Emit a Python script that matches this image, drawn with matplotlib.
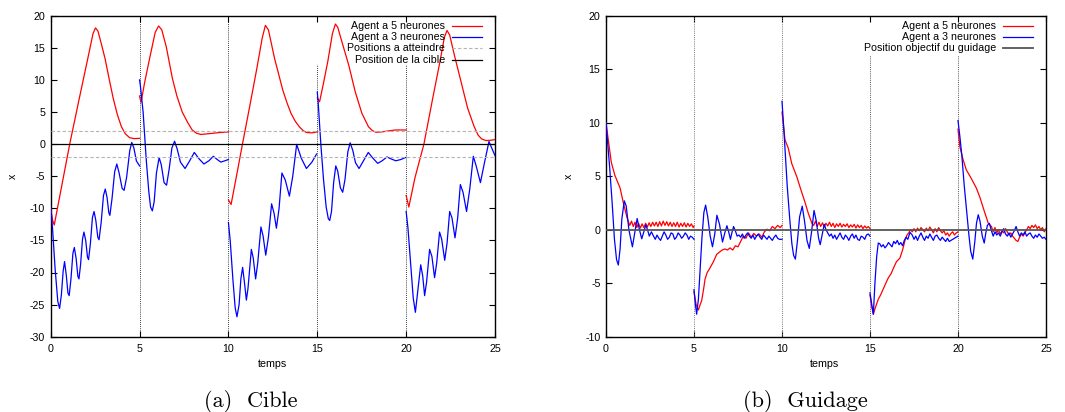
import numpy as np
import matplotlib
matplotlib.use("Agg")
import matplotlib.pyplot as plt

plt.rcParams['font.family'] = ['Liberation Sans', 'DejaVu Sans']
plt.rcParams['axes.unicode_minus'] = False

# ---------------- (a) Cible : one list per segment (agent reset every 5 s)
cible_t5 = [
    [0.0, 0.1, 0.2, 0.6, 1.07, 1.6, 2.1, 2.38, 2.52, 2.66, 2.85, 3.06, 3.3, 3.52, 3.75, 3.98, 4.2, 4.44, 4.7, 5.0],
    [5.0, 5.08, 5.3, 5.6, 5.88, 6.07, 6.25, 6.5, 6.85, 7.1, 7.4, 7.7, 7.96, 8.2, 8.45, 9.0, 9.5, 10.0],
    [10.0, 10.15, 10.5, 10.79, 11.2, 11.6, 11.9, 12.08, 12.25, 12.6, 13.06, 13.3, 13.52, 13.75, 13.99, 14.2, 14.4, 14.7, 15.0],
    [15.0, 15.13, 15.35, 15.6, 15.85, 16.02, 16.15, 16.39, 16.77, 17.14, 17.51, 17.88, 18.1, 18.3, 18.62, 19.0, 19.4, 20.0],
    [20.0, 20.15, 20.5, 21.0, 21.5, 21.9, 22.15, 22.3, 22.45, 22.71, 23.09, 23.46, 23.83, 24.05, 24.25, 24.5, 24.75, 25.0],
]
cible_x5 = [
    [-10.0, -11.8, -12.6, -6.8, 0.0, 7.0, 13.5, 17.2, 18.1, 17.6, 15.6, 13.3, 10.0, 7.1, 4.6, 2.7, 1.6, 1.0, 0.85, 0.9],
    [7.5, 6.5, 9.8, 13.8, 17.4, 18.4, 17.8, 15.2, 10.2, 7.5, 5.0, 3.4, 2.2, 1.7, 1.5, 1.65, 1.8, 1.9],
    [-8.7, -9.4, -4.3, 0.0, 5.9, 11.8, 16.5, 18.5, 17.8, 13.3, 8.4, 6.4, 4.8, 3.6, 2.7, 2.1, 1.8, 1.75, 1.9],
    [7.2, 6.6, 9.5, 13.0, 17.2, 18.7, 18.2, 15.9, 12.3, 8.1, 4.8, 2.7, 2.1, 1.85, 1.9, 2.05, 2.2, 2.2],
    [-8.0, -9.8, -5.2, 0.0, 7.2, 12.8, 16.6, 17.7, 17.0, 13.9, 9.7, 5.6, 2.7, 1.4, 0.8, 0.55, 0.6, 0.7],
]
cible_t3 = [
    [0.0, 0.1, 0.25, 0.4, 0.5, 0.6, 0.7, 0.78, 0.88, 0.97, 1.04, 1.14, 1.25, 1.33, 1.43, 1.53, 1.59, 1.68, 1.79, 1.87,
     1.97, 2.07, 2.13, 2.23, 2.35, 2.44, 2.54, 2.65, 2.72, 2.84, 2.97, 3.07, 3.17, 3.27, 3.33, 3.45, 3.6, 3.72, 3.85,
     4.02, 4.13, 4.27, 4.45, 4.56, 4.68, 4.82, 5.0],
    [5.0, 5.05, 5.2, 5.37, 5.52, 5.62, 5.72, 5.82, 5.95, 6.1, 6.22, 6.38, 6.52, 6.66, 6.82, 6.97, 7.12, 7.3, 7.56,
     7.82, 8.08, 8.35, 8.62, 8.9, 9.15, 9.37, 9.57, 9.8, 10.0],
    [10.0, 10.1, 10.25, 10.38, 10.48, 10.6, 10.7, 10.8, 10.9, 11.01, 11.1, 11.29, 11.4, 11.53, 11.65, 11.83, 11.95,
     12.1, 12.25, 12.43, 12.57, 12.7, 12.85, 13.01, 13.2, 13.43, 13.62, 13.84, 14.1, 14.39, 14.7, 14.96],
    [15.0, 15.05, 15.2, 15.35, 15.5, 15.62, 15.7, 15.8, 15.92, 16.04, 16.15, 16.3, 16.43, 16.56, 16.72, 16.85, 17.0,
     17.15, 17.35, 17.6, 17.87, 18.1, 18.4, 18.65, 18.92, 19.15, 19.42, 19.7, 19.96],
    [20.0, 20.1, 20.25, 20.4, 20.52, 20.65, 20.82, 20.93, 21.04, 21.15, 21.32, 21.45, 21.6, 21.72, 21.88, 22.0, 22.17,
     22.3, 22.45, 22.58, 22.75, 22.9, 23.05, 23.2, 23.4, 23.58, 23.78, 23.95, 24.18, 24.4, 24.66, 24.8, 25.0],
]
cible_x3 = [
    [-9.7, -13.0, -19.5, -24.5, -25.6, -23.5, -19.8, -18.3, -20.5, -23.2, -23.6, -21.0, -17.0, -16.1, -17.8, -20.6,
     -21.0, -18.8, -14.8, -13.7, -15.0, -17.6, -18.0, -15.6, -11.4, -10.5, -11.9, -14.5, -14.9, -12.2, -8.0, -7.0,
     -8.3, -10.7, -11.1, -8.5, -4.3, -3.1, -4.5, -6.9, -7.2, -5.2, -1.0, 0.26, -0.6, -2.6, -3.4],
    [10.0, 9.0, 5.0, -2.2, -7.4, -9.8, -10.4, -9.0, -4.5, -2.1, -3.2, -6.0, -6.4, -4.0, -0.6, 0.45, -0.8, -2.8, -3.8,
     -2.6, -1.3, -2.3, -3.1, -2.6, -1.9, -2.4, -2.8, -2.6, -2.4],
    [-12.2, -15.0, -21.0, -25.5, -26.9, -25.0, -21.0, -19.2, -21.5, -24.3, -22.5, -16.4, -17.8, -21.0, -18.5, -12.9,
     -14.3, -17.3, -14.5, -9.3, -10.8, -13.1, -10.0, -4.5, -5.6, -8.1, -5.0, -0.05, -2.2, -3.8, -2.8, -1.55],
    [8.1, 6.5, 0.0, -5.5, -9.8, -11.6, -11.9, -10.5, -6.0, -3.4, -4.2, -6.8, -7.5, -5.5, -1.2, 0.2, -1.0, -2.9, -3.8,
     -2.6, -1.3, -2.1, -3.0, -2.6, -2.0, -2.3, -2.6, -2.4, -2.1],
    [-10.5, -13.0, -18.5, -24.0, -26.2, -23.0, -18.8, -20.5, -23.6, -21.5, -16.4, -17.5, -20.8, -18.5, -13.7, -14.8,
     -18.1, -15.5, -10.5, -11.5, -14.6, -11.5, -6.3, -7.5, -10.5, -7.0, -1.9, -3.5, -6.0, -3.0, 0.4, -0.5, -1.8],
]
cible_targets = [2, -2]
cible_position = 0

# ---------------- (b) Guidage
guid_t5 = [
    [0.0, 0.13, 0.3, 0.5, 0.8, 1.0, 1.2, 1.35, 1.45, 1.55, 1.65, 1.75, 1.85, 1.95, 2.05, 2.15, 2.25, 2.35, 2.45, 2.55,
     2.65, 2.75, 2.85, 2.95, 3.05, 3.15, 3.25, 3.35, 3.45, 3.55, 3.65, 3.75, 3.85, 3.95, 4.05, 4.15, 4.25, 4.35, 4.45,
     4.55, 4.65, 4.75, 4.85, 4.95, 5.0],
    [5.0, 5.12, 5.25, 5.35, 5.44, 5.55, 5.63, 5.75, 5.9, 6.1, 6.29, 6.45, 6.6, 6.75, 6.9, 7.05, 7.2, 7.35, 7.5, 7.65,
     7.8, 7.95, 8.1, 8.25, 8.4, 8.55, 8.7, 8.85, 9.0, 9.15, 9.3, 9.45, 9.6, 9.75, 9.9, 10.0],
    [10.0, 10.17, 10.36, 10.55, 10.83, 11.1, 11.3, 11.5, 11.7, 11.8, 11.9, 12.0, 12.1, 12.2, 12.3, 12.4, 12.5, 12.6,
     12.7, 12.8, 12.9, 13.0, 13.1, 13.2, 13.3, 13.4, 13.5, 13.6, 13.7, 13.8, 13.9, 14.0, 14.1, 14.2, 14.3, 14.4, 14.5,
     14.6, 14.7, 14.8, 14.9, 15.0],
    [15.0, 15.1, 15.19, 15.3, 15.47, 15.6, 15.76, 15.9, 16.04, 16.2, 16.33, 16.5, 16.7, 16.85, 16.99, 17.1, 17.2, 17.3,
     17.4, 17.5, 17.6, 17.7, 17.8, 17.9, 18.0, 18.1, 18.2, 18.3, 18.4, 18.5, 18.6, 18.7, 18.8, 18.9, 19.0, 19.1, 19.2,
     19.3, 19.4, 19.5, 19.6, 19.7, 19.8, 19.9, 20.0],
    [20.0, 20.1, 20.28, 20.47, 20.75, 21.04, 21.25, 21.5, 21.72, 21.9, 22.0, 22.1, 22.2, 22.3, 22.4, 22.5, 22.6, 22.7,
     22.8, 22.9, 23.0, 23.1, 23.2, 23.3, 23.4, 23.5, 23.6, 23.7, 23.8, 23.9, 24.0, 24.1, 24.2, 24.3, 24.4, 24.5, 24.6,
     24.7, 24.8, 24.9, 25.0],
]
guid_x5 = [
    [10.0, 8.4, 6.3, 5.1, 3.9, 2.4, 1.1, 0.4, 0.8, 0.3, 0.7, 0.2, 0.6, 0.15, 0.55, 0.2, 0.6, 0.25, 0.65, 0.3, 0.7, 0.35,
     0.7, 0.3, 0.75, 0.35, 0.8, 0.4, 0.75, 0.35, 0.7, 0.3, 0.65, 0.3, 0.7, 0.25, 0.6, 0.3, 0.65, 0.25, 0.6, 0.3, 0.55,
     0.2, 0.35],
    [-5.8, -7.0, -7.5, -7.0, -6.6, -5.5, -4.6, -4.0, -3.6, -3.0, -2.3, -2.1, -1.9, -1.8, -1.9, -1.7, -1.9, -1.5, -1.6,
     -1.1, -0.6, -0.8, -0.3, -0.7, -0.35, -0.6, -0.4, -0.7, -0.2, 0.05, -0.1, 0.3, 0.1, 0.4, 0.2, 0.4],
    [11.0, 8.4, 7.6, 6.2, 5.0, 3.6, 2.6, 1.5, 0.6, 0.4, 0.8, 0.3, 0.7, 0.3, 0.65, 0.25, 0.6, 0.35, 0.7, 0.3, 0.6, 0.2,
     0.55, 0.3, 0.6, 0.25, 0.5, 0.3, 0.55, 0.2, 0.45, 0.25, 0.5, 0.15, 0.45, 0.2, 0.4, 0.1, 0.35, 0.15, 0.3, 0.1],
    [-6.1, -7.2, -7.9, -7.3, -6.5, -6.1, -5.5, -5.0, -4.5, -4.1, -3.6, -3.0, -2.65, -1.9, -1.0, -0.5, -0.3, 0.0, -0.2,
     0.1, -0.2, 0.15, -0.1, 0.2, 0.0, -0.2, 0.15, -0.1, 0.25, 0.0, -0.3, 0.1, -0.2, 0.2, -0.1, -0.3, -0.1, -0.5, -0.3,
     -0.6, -0.35, -0.2, -0.5, -0.3, -0.2],
    [9.4, 7.8, 6.6, 5.6, 4.8, 3.9, 3.0, 1.7, 0.6, 0.3, -0.2, 0.2, -0.3, 0.0, -0.4, -0.1, -0.3, 0.1, -0.2, -0.5, -0.3,
     -0.6, -0.8, -1.0, -1.1, -0.7, -0.4, -0.6, -0.3, 0.0, 0.3, 0.1, 0.4, 0.2, 0.45, 0.1, 0.3, 0.0, 0.2, -0.2, 0.1],
]
guid_t3 = [
    [0.0, 0.1, 0.2, 0.35, 0.48, 0.6, 0.7, 0.8, 0.9, 1.04, 1.15, 1.3, 1.5, 1.63, 1.77, 1.9, 2.03, 2.15, 2.26, 2.36, 2.46,
     2.58, 2.7, 2.8, 2.9, 3.0, 3.1, 3.2, 3.3, 3.4, 3.5, 3.6, 3.7, 3.8, 3.9, 4.0, 4.1, 4.2, 4.3, 4.4, 4.5, 4.6, 4.7, 4.8,
     4.9, 5.0],
    [5.0, 5.08, 5.15, 5.25, 5.34, 5.45, 5.56, 5.66, 5.78, 5.92, 6.05, 6.18, 6.3, 6.45, 6.62, 6.75, 6.87, 6.97, 7.07,
     7.15, 7.25, 7.35, 7.45, 7.55, 7.65, 7.75, 7.85, 7.95, 8.05, 8.15, 8.25, 8.35, 8.45, 8.55, 8.65, 8.75, 8.85, 8.95,
     9.05, 9.15, 9.25, 9.35, 9.45, 9.55, 9.65, 9.75, 9.85, 10.0],
    [10.0, 10.1, 10.2, 10.3, 10.45, 10.56, 10.66, 10.76, 10.88, 11.0, 11.15, 11.28, 11.42, 11.55, 11.68, 11.82, 11.95,
     12.08, 12.17, 12.28, 12.4, 12.5, 12.6, 12.7, 12.8, 12.9, 13.0, 13.1, 13.2, 13.3, 13.4, 13.5, 13.6, 13.7, 13.8,
     13.9, 14.0, 14.1, 14.2, 14.3, 14.4, 14.5, 14.6, 14.7, 14.8, 14.9, 15.0],
    [15.0, 15.1, 15.19, 15.28, 15.38, 15.47, 15.55, 15.65, 15.75, 15.85, 15.95, 16.05, 16.15, 16.25, 16.35, 16.45,
     16.55, 16.65, 16.75, 16.85, 16.95, 17.05, 17.15, 17.27, 17.4, 17.5, 17.6, 17.7, 17.8, 17.9, 18.0, 18.1, 18.2,
     18.3, 18.4, 18.5, 18.6, 18.7, 18.8, 18.9, 19.0, 19.1, 19.2, 19.3, 19.4, 19.5, 19.6, 19.7, 19.8, 19.9, 20.0],
    [20.0, 20.1, 20.22, 20.35, 20.5, 20.62, 20.72, 20.84, 20.95, 21.05, 21.15, 21.25, 21.38, 21.49, 21.58, 21.67,
     21.78, 21.9, 22.0, 22.1, 22.2, 22.3, 22.4, 22.5, 22.6, 22.7, 22.8, 22.9, 23.0, 23.1, 23.2, 23.3, 23.4, 23.5, 23.6,
     23.7, 23.8, 23.9, 24.0, 24.1, 24.2, 24.3, 24.4, 24.5, 24.6, 24.7, 24.8, 24.9, 25.0],
]
guid_x3 = [
    [10.0, 8.0, 6.0, 2.5, -0.9, -2.8, -3.3, -1.8, 1.0, 2.7, 2.2, 0.0, -1.6, -0.3, 1.05, 0.0, -0.85, -0.2, 0.45, 0.0,
     -0.6, -0.2, -0.6, -0.9, -0.5, -0.8, -1.0, -0.6, -0.2, -0.5, -0.9, -0.7, -0.3, -0.4, -0.9, -0.7, -0.3, -0.5, -0.8,
     -0.6, -0.3, -0.5, -0.9, -0.6, -0.7, -0.9],
    [-5.6, -7.0, -7.9, -6.5, -4.0, -0.8, 1.6, 2.3, 1.2, -0.6, -1.6, -0.4, 1.35, 0.5, -1.15, -0.3, 0.37, -0.2, -0.9,
     -0.3, 0.3, -0.1, -0.6, -0.5, -0.7, -0.4, -0.8, -0.5, -0.3, -0.6, -0.8, -0.5, -0.9, -0.6, -0.4, -0.7, -0.9, -0.5,
     -0.7, -0.9, -0.6, -0.8, -1.0, -0.7, -0.5, -0.8, -0.9, -0.9],
    [12.0, 9.5, 6.8, 4.0, 0.8, -1.3, -2.4, -2.75, -1.0, 1.2, 2.2, 0.8, -1.0, -1.75, -0.2, 1.8, 0.8, -0.8, -1.4, -0.5,
     0.5, 0.0, -0.3, -0.6, -0.4, -0.8, -0.5, -0.9, -0.6, -0.3, -0.7, -0.9, -0.5, -0.7, -1.0, -0.6, -0.4, -0.8, -0.5,
     -0.9, -1.0, -0.6, -0.7, -0.9, -0.5, -0.4, -0.6],
    [-5.9, -7.0, -7.9, -5.0, -2.5, -1.25, -1.3, -1.6, -1.4, -1.7, -1.5, -1.2, -1.4, -1.6, -1.1, -1.3, -1.0, -1.4, -1.2,
     -1.5, -1.0, -0.7, -0.9, -0.25, -0.5, -0.9, -0.6, -1.0, -0.6, -0.3, -0.7, -1.0, -0.6, -0.8, -0.4, -0.7, -1.0, -0.6,
     -0.5, -0.8, -1.0, -0.7, -0.9, -1.1, -0.8, -1.1, -1.0, -0.9, -0.8, -0.7, -0.6],
    [10.2, 8.8, 6.9, 4.2, 1.6, -0.5, -2.0, -2.75, -1.2, 0.6, 1.4, 0.8, -0.6, -1.25, -0.3, 0.4, 0.6, -0.1, -0.6, -0.2,
     -0.5, -0.3, -0.6, -0.2, 0.1, -0.4, -0.6, -0.3, -0.7, -0.4, -0.1, 0.3, -0.2, -0.6, -0.3, -0.5, -0.2, -0.6, -0.4,
     -0.3, -0.6, -0.8, -0.5, -0.7, -0.4, -0.6, -0.8, -0.7, -0.9],
]
guid_objective = 0

resets_full = [5, 10]
resets_short = [15, 20]
cible_labels = ['Agent a 5 neurones', 'Agent a 3 neurones', 'Positions a atteindre', 'Position de la cible']
guid_labels = ['Agent a 5 neurones', 'Agent a 3 neurones', 'Position objectif du guidage']
xticks = [0, 5, 10, 15, 20, 25]
cible_yticks = [-30, -25, -20, -15, -10, -5, 0, 5, 10, 15, 20]
guid_yticks = [-10, -5, 0, 5, 10, 15, 20]


def join(segs):
    # put the segments end to end with a NaN gap between them
    out = []
    for s in segs:
        out += list(s) + [np.nan]
    return np.array(out[:-1], dtype=float)


W, H = 1065, 412
fig = plt.figure(figsize=(W / 100, H / 100), dpi=100)
ax1 = fig.add_axes([50.7 / W, 1 - 336.7 / H, 444.3 / W, 321 / H])
ax2 = fig.add_axes([606 / W, 1 - 336.7 / H, 440 / W, 321 / H])

RED, BLUE = '#ff0000', '#0000ff'
FS = 7.7

# --- left panel
ax1.plot(join(cible_t5), join(cible_x5), color=RED, lw=0.9, zorder=3)
ax1.plot(join(cible_t3), join(cible_x3), color=BLUE, lw=0.9, zorder=3)
for y in cible_targets:
    ax1.axhline(y, color='#b4b4b4', lw=0.8, dashes=(3, 2), zorder=4)
ax1.axhline(cible_position, color='black', lw=0.9, zorder=5)
for t in resets_full:
    ax1.axvline(t, color='black', lw=0.6, ls=(0, (1, 1.5)), zorder=2)
for t in resets_short:
    ax1.plot([t, t], [-30, 12.4], color='black', lw=0.6, ls=(0, (1, 1.5)), zorder=2)
ax1.set_xlim(0, 25)
ax1.set_ylim(-30, 20)
ax1.set_yticks(cible_yticks)

# --- right panel
ax2.plot(join(guid_t5), join(guid_x5), color=RED, lw=0.9, zorder=3)
ax2.plot(join(guid_t3), join(guid_x3), color=BLUE, lw=0.9, zorder=3)
ax2.axhline(guid_objective, color='#555555', lw=1.3, zorder=5)
for t in resets_full:
    ax2.axvline(t, color='#777777', lw=0.7, ls=(0, (1, 1.2)), zorder=2)
for t in resets_short:
    ax2.plot([t, t], [-10, 16.3], color='#555555', lw=0.7, ls=(0, (1, 1.2)), zorder=2)
ax2.set_xlim(0, 25)
ax2.set_ylim(-10, 20)
ax2.set_yticks(guid_yticks)

for ax in (ax1, ax2):
    ax.set_xticks(xticks)
    ax.tick_params(direction='in', top=True, right=True, length=4, width=0.8,
                   labelsize=FS, colors='black')
    ax.tick_params(axis='x', pad=5)
    ax.tick_params(axis='y', pad=4)
    for sp in ax.spines.values():
        sp.set_linewidth(1.0)

# axis labels (placed like gnuplot)
fig.text(273 / W, 1 - 364 / H, 'temps', ha='center', va='center', fontsize=FS)
fig.text(825 / W, 1 - 364 / H, 'temps', ha='center', va='center', fontsize=FS)
fig.text(13 / W, 1 - 176 / H, 'x', ha='center', va='center', fontsize=FS, rotation=90)
fig.text(569 / W, 1 - 176 / H, 'x', ha='center', va='center', fontsize=FS, rotation=90)

# keys, gnuplot style: text right aligned, sample on the right
styles1 = [dict(color=RED, lw=0.9), dict(color=BLUE, lw=0.9),
           dict(color='#b4b4b4', lw=0.8, dashes=(3, 2)), dict(color='black', lw=0.9)]
rows1 = [0.969, 0.933, 0.898, 0.862]
for lab, st, y in zip(cible_labels, styles1, rows1):
    ax1.text(0.8875, y, lab, transform=ax1.transAxes, ha='right', va='center', fontsize=FS, zorder=6)
    ax1.plot([0.9032, 0.9707], [y, y], transform=ax1.transAxes, zorder=6, **st)

styles2 = [dict(color=RED, lw=0.9), dict(color=BLUE, lw=0.9), dict(color='#555555', lw=1.3)]
rows2 = [0.969, 0.935, 0.900]
for lab, st, y in zip(guid_labels, styles2, rows2):
    ax2.text(0.8864, y, lab, transform=ax2.transAxes, ha='right', va='center', fontsize=FS, zorder=6)
    ax2.plot([0.902, 0.970], [y, y], transform=ax2.transAxes, zorder=6, **st)

# sub-figure captions
fig.text(251 / W, 1 - 407 / H, '(a)  Cible', ha='center', va='baseline', fontsize=16, fontfamily='cmr10')
fig.text(805 / W, 1 - 407 / H, '(b)  Guidage', ha='center', va='baseline', fontsize=16, fontfamily='cmr10')

fig.savefig('out.png', dpi=100, facecolor='white')
